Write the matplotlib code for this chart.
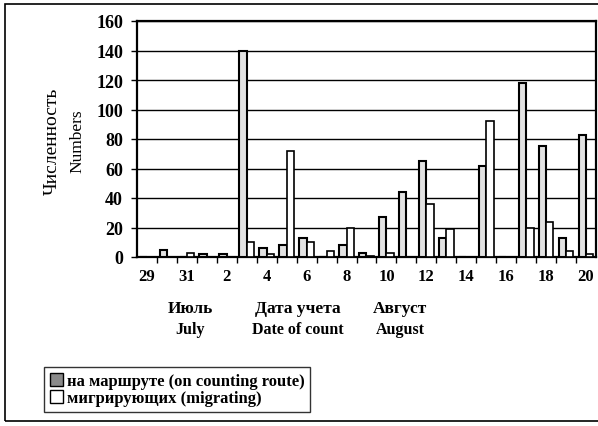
import matplotlib
matplotlib.use("Agg")
import matplotlib.pyplot as plt
from matplotlib.patches import Patch, Rectangle
import numpy as np

days = ['29', '30', '31', '1', '2', '3', '4', '5', '6', '7', '8', '9', '10',
        '11', '12', '13', '14', '15', '16', '17', '18', '19', '20']
on_route = [0, 5, 0, 2, 2, 140, 6, 8, 13, 0, 8, 3, 27, 44, 65, 13, 0, 62, 0, 118, 75, 13, 83]
migrating = [0, 0, 3, 0, 0, 10, 2, 72, 10, 4, 20, 1, 3, 0, 36, 19, 0, 92, 0, 20, 24, 4, 2]
y_ticks = [0, 20, 40, 60, 80, 100, 120, 140, 160]

serif = ['Liberation Serif', 'DejaVu Serif']
plt.rcParams['font.family'] = serif

fig = plt.figure(figsize=(5.98, 4.27), dpi=100)
ax = fig.add_axes([137/598, 1 - 258/427, 459/598, 236/427])

x = np.arange(len(days))
w = 0.37
ax.bar(x - w/2, on_route, width=w, color='#e2e2e2', edgecolor='black', linewidth=1.5, zorder=3)
ax.bar(x + w/2, migrating, width=w, color='white', edgecolor='black', linewidth=1.2, zorder=3)

ax.set_xlim(-0.5, len(days) - 0.5)
ax.set_ylim(0, 160)
ax.set_yticks(y_ticks)
ax.set_yticklabels([str(v) for v in y_ticks], fontsize=13, fontweight='bold')
ax.yaxis.grid(True, color='black', linewidth=1.0)
ax.set_axisbelow(True)

ax.set_xticks(x[::2])
ax.set_xticklabels(days[::2], fontsize=12, fontweight='bold')
ax.tick_params(axis='x', length=0, pad=8)
ax.set_xticks(np.arange(0.5, len(days) - 0.5, 1), minor=True)
ax.tick_params(axis='x', which='minor', length=4, width=1, direction='out')
ax.tick_params(axis='y', length=4, width=1, direction='out', pad=6)

for s in ax.spines.values():
    s.set_linewidth(1.6)
    s.set_color('black')

fig.text(52/598, 1 - 141/427, 'Численность', rotation=90, ha='center', va='center',
         fontsize=14)
fig.text(77/598, 1 - 141/427, 'Numbers', rotation=90, ha='center', va='center',
         fontsize=12.5)

for xc, ru, en in [(190, 'Июль', 'July'), (298, 'Дата учета', 'Date of count'),
                   (400, 'Август', 'August')]:
    fig.text(xc/598, 1 - 309/427, ru, ha='center', va='center', fontsize=12.5, fontweight='bold')
    fig.text(xc/598, 1 - 330/427, en, ha='center', va='center', fontsize=11.5, fontweight='bold')

handles = [Patch(facecolor='#8a8a8a', edgecolor='black', linewidth=1.0),
           Patch(facecolor='white', edgecolor='black', linewidth=1.0)]
leg = fig.legend(handles, ['на маршруте (on counting route)', 'мигрирующих (migrating)'],
                 loc='lower left', bbox_to_anchor=(44/598, 1 - 413/427),
                 frameon=True, fancybox=False, edgecolor='black',
                 prop={'family': serif, 'size': 12, 'weight': 'bold'},
                 handlelength=0.8, handleheight=0.8, handletextpad=0.2,
                 labelspacing=0.05, borderpad=0.35, borderaxespad=0)
leg.get_frame().set_linewidth(1.0)

fig.patches.append(Rectangle((5/598, 5/427), 600/598, 417/427, transform=fig.transFigure,
                             fill=False, edgecolor='black', linewidth=1.2))

fig.savefig('out.png', dpi=100)
